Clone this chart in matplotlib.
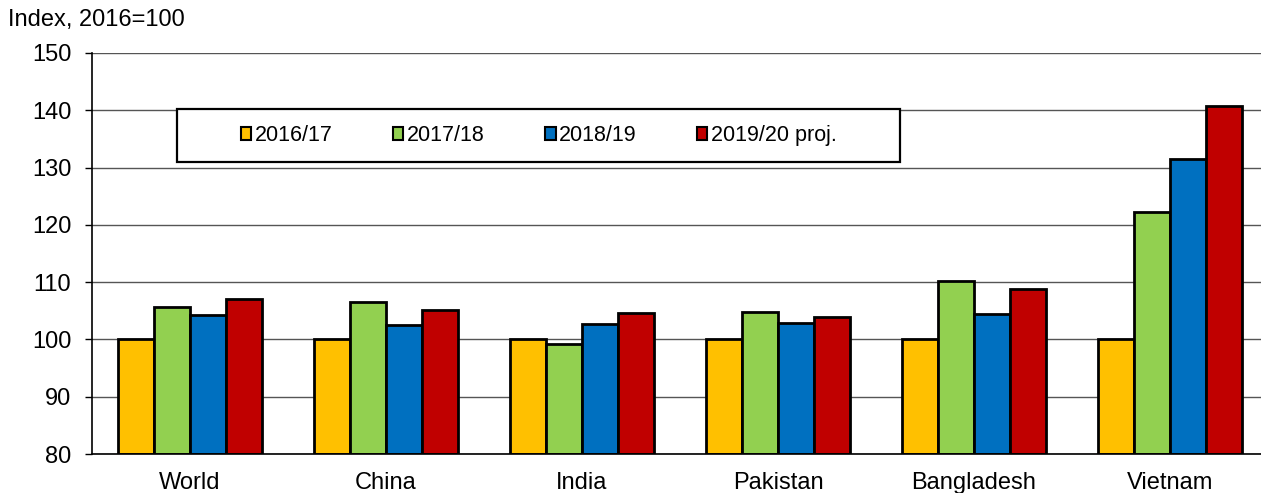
import numpy as np
import matplotlib
matplotlib.use("Agg")
import matplotlib.pyplot as plt
from matplotlib.patches import Patch, Rectangle

# index values, 2016 = 100
countries = ["World", "China", "India", "Pakistan", "Bangladesh", "Vietnam"]
seasons = ["2016/17", "2017/18", "2018/19", "2019/20 proj."]
y2016 = [100, 100, 100, 100, 100, 100]
y2017 = [105.6, 106.5, 99.2, 104.8, 110.2, 122.2]
y2018 = [104.2, 102.5, 102.7, 102.9, 104.4, 131.5]
y2019 = [107.0, 105.1, 104.6, 103.9, 108.8, 140.7]
colors = ["#FFC000", "#92D050", "#0070C0", "#C00000"]

plt.rcParams["font.family"] = ["Liberation Sans", "DejaVu Sans"]

fig = plt.figure(figsize=(12.61, 4.93), dpi=100)
ax = fig.add_axes([0.073, 0.0791, 0.9325, 0.8134])

x = np.arange(len(countries))
w = 0.1837
series = [y2016, y2017, y2018, y2019]
for i, vals in enumerate(series):
    base = 80
    ax.bar(x + (i - 1.5) * w, np.array(vals) - base, w, bottom=base,
           color=colors[i], edgecolor="black", linewidth=2.0, zorder=3)

ax.set_xlim(-0.5, 5.5)
ax.set_ylim(80, 150)
ax.set_yticks(range(80, 151, 10))
ax.yaxis.grid(True, color="#555555", linewidth=1.0, zorder=0)
ax.set_axisbelow(True)
ax.set_xticks(x)
ax.set_xticklabels(countries, fontsize=17)
ax.tick_params(axis="x", length=0, pad=13)
ax.tick_params(axis="y", labelsize=17, length=5, width=1.0, pad=10, direction="out")
for s in ["top", "right"]:
    ax.spines[s].set_visible(False)
for s in ["left", "bottom"]:
    ax.spines[s].set_linewidth(1.2)
    ax.spines[s].set_zorder(4)

# legend box
box = Rectangle((0.0723, 0.728), 0.6147, 0.132, transform=ax.transAxes,
                facecolor="white", edgecolor="black", linewidth=1.6, zorder=5)
ax.add_patch(box)
handles = [Patch(facecolor=c, edgecolor="black", linewidth=1.5) for c in colors]
leg = ax.legend(handles, seasons, ncol=4, loc="center",
                bbox_to_anchor=(0.3797, 0.794), frameon=False, fontsize=15.5,
                handlelength=0.5, handleheight=0.5, handletextpad=0.15,
                columnspacing=2.8)
leg.set_zorder(6)

fig.text(8 / 1261, 1 - 20 / 493, "Index, 2016=100", fontsize=17, va="center", ha="left")

fig.savefig("out.png", dpi=100)
